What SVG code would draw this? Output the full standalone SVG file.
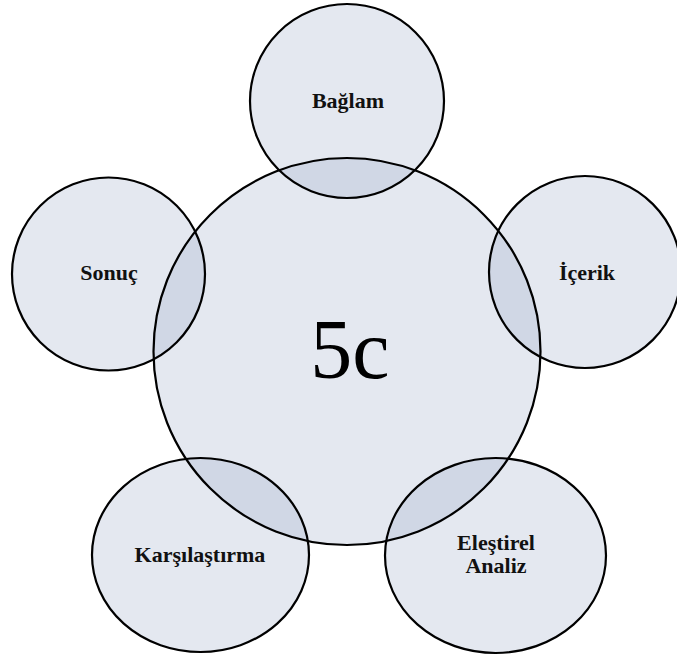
<svg xmlns="http://www.w3.org/2000/svg" width="677" height="655" viewBox="0 0 677 655">
<style>
.shape{fill:rgb(150,168,196);fill-opacity:0.26;stroke:none}
.line{fill:none;stroke:#000;stroke-width:2.2}
.lbl{font-family:"Liberation Serif","Times New Roman",serif;font-weight:bold;font-size:22px;fill:#111;text-anchor:middle}
.big{font-family:"Liberation Serif","Times New Roman",serif;font-size:84px;fill:#000;text-anchor:middle}
</style>
<rect width="677" height="655" fill="#fff"/>
<g id="center">
<circle class="shape" cx="347" cy="351.5" r="193.5"/>
<text class="big" x="350" y="378">5c</text>
</g>
<g id="baglam">
<circle class="shape" cx="347" cy="101" r="97"/>
</g>
<g id="icerik">
<circle class="shape" cx="585" cy="272" r="96"/>
</g>
<g id="elestirel">
<ellipse class="shape" cx="495.5" cy="555.5" rx="110.5" ry="97.5"/>
</g>
<g id="karsilastirma">
<ellipse class="shape" cx="200.5" cy="555" rx="108.5" ry="97"/>
</g>
<g id="sonuc">
<circle class="shape" cx="108.5" cy="274" r="96.5"/>
</g>
<g id="outlines">
<circle class="line" cx="347" cy="351.5" r="193.5"/>
<circle class="line" cx="347" cy="101" r="97"/>
<circle class="line" cx="585" cy="272" r="96"/>
<ellipse class="line" cx="495.5" cy="555.5" rx="110.5" ry="97.5"/>
<ellipse class="line" cx="200.5" cy="555" rx="108.5" ry="97"/>
<circle class="line" cx="108.5" cy="274" r="96.5"/>
</g>
<g id="labels">
<text class="lbl" x="348" y="108">Bağlam</text>
<text class="lbl" x="587" y="280">İçerik</text>
<text class="lbl" x="496" y="550">Eleştirel</text>
<text class="lbl" x="496" y="573">Analiz</text>
<text class="lbl" x="200" y="562">Karşılaştırma</text>
<text class="lbl" x="109" y="280">Sonuç</text>
</g>
</svg>
